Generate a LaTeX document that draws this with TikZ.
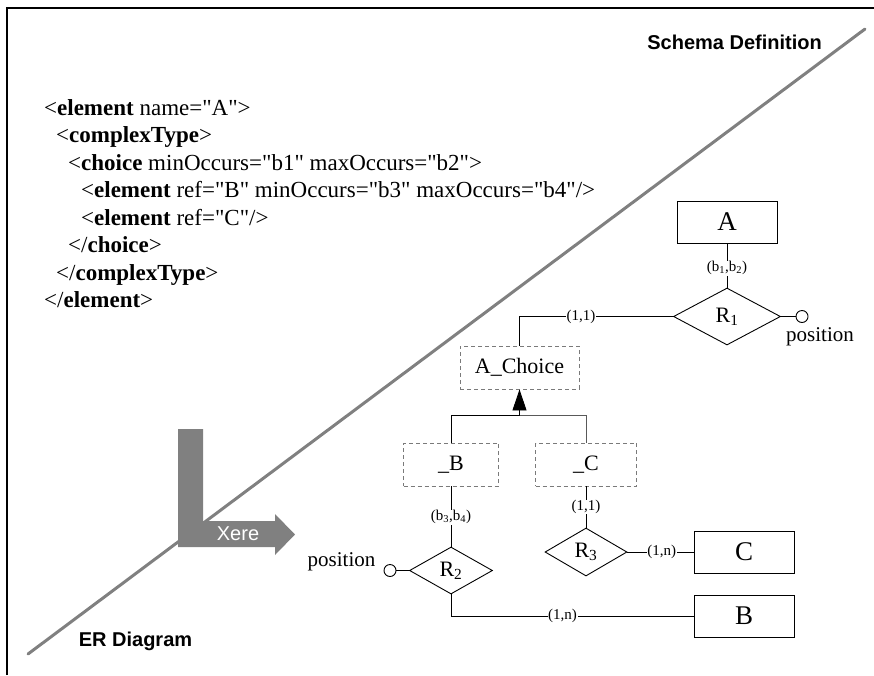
\documentclass[tikz,border=0pt]{standalone}
\usepackage{fontspec}
\setmainfont{Liberation Serif}[Ligatures=TeXOff]
\newfontfamily\arialfont{Liberation Sans}
\usetikzlibrary{shapes.geometric,arrows.meta}
\definecolor{divider}{HTML}{808080}
\definecolor{dashgray}{HTML}{7A7A7A}
\begin{document}
\begin{tikzpicture}[x=1pt,y=-1pt,
  entity/.style={draw,line width=0.9pt,minimum width=100pt,minimum height=42pt,inner sep=0pt,
    font=\fontsize{27}{30}\selectfont},
  weakbox/.style={draw=dashgray,line width=0.9pt,dash pattern=on 4pt off 3pt,minimum height=43pt,
    inner sep=0pt,font=\fontsize{22}{26}\selectfont},
  rel/.style={diamond,draw,line width=0.9pt,inner sep=0pt,font=\fontsize{22}{26}\selectfont},
  attr/.style={circle,draw,line width=0.9pt,minimum size=12pt,inner sep=0pt},
  conn/.style={line width=0.9pt},
  lbl/.style={fill=white,inner sep=0.6pt,font=\fontsize{15}{17}\selectfont},
  xml/.style={anchor=base west,inner sep=0pt,font=\fontsize{23}{27}\selectfont},
  caption/.style={inner sep=0pt,font=\arialfont\bfseries\fontsize{20}{24}\selectfont},
  plain/.style={inner sep=0pt,font=\fontsize{21}{25}\selectfont}]
\useasboundingbox (0,0) rectangle (874,675);

% frame and divider between the two halves
\draw[line width=1.5pt] (7,675) -- (7,8) -- (874,8);
\draw[divider,line width=3pt,line cap=round] (865,29) -- (28,654);
\node[caption,anchor=east] (schema) at (822,42) {Schema Definition};
\node[caption] (er) at (135.5,641) {ER Diagram};

% XML schema fragment
\node[xml] (x1) at (44,115)   {<\textbf{element} name="A">};
\node[xml] (x2) at (56,142.5) {<\textbf{complexType}>};
\node[xml] (x3) at (68,170)   {<\textbf{choice} minOccurs="b1" maxOccurs="b2">};
\node[xml] (x4) at (81,197.5) {<\textbf{element} ref="B" minOccurs="b3" maxOccurs="b4"/>};
\node[xml] (x5) at (81,225)   {<\textbf{element} ref="C"/>};
\node[xml] (x6) at (68,252.5) {</\textbf{choice}>};
\node[xml] (x7) at (56,280)   {</\textbf{complexType}>};
\node[xml] (x8) at (44,307.5) {</\textbf{element}>};

% transformation arrow
\fill[divider] (178,429) -- (203,429) -- (203,521) -- (275,521) -- (275,514) -- (295,534.5)
  -- (275,555) -- (275,547) -- (178,547) -- cycle;
\node[inner sep=0pt,text=white,font=\arialfont\fontsize{20}{24}\selectfont] (xere) at (238,534) {Xere};

% ER diagram
\node[entity] (A) at (727,222) {A};
\node[rel,minimum width=107pt,minimum height=57pt] (R1) at (727,316.5) {R\textsubscript{1}};
\node[attr] (p1) at (802,316.5) {};
\node[plain] (pos1) at (820,337) {position};
\coordinate (bend) at (519.5,316.5);
\node[weakbox,minimum width=119pt] (AC) at (519.5,367.5) {A\_Choice};
\coordinate (junc) at (519.5,415);
\node[weakbox,minimum width=95pt] (Bw) at (451,464.5) {\_B};
\node[weakbox,minimum width=101pt] (Cw) at (586,464.5) {\_C};
\node[rel,minimum width=83pt,minimum height=47pt] (R2) at (451,570.5) {R\textsubscript{2}};
\node[rel,minimum width=82pt,minimum height=48pt] (R3) at (586,552) {R\textsubscript{3}};
\node[entity] (C) at (744,552) {C};
\node[entity] (B) at (744,616) {B};
\node[attr] (p2) at (390,570.5) {};
\node[plain] (pos2) at (341.5,562) {position};

\draw[conn] (A) -- node[lbl,pos=0.56] {(b\textsubscript{1},b\textsubscript{2})} (R1);
\draw[conn] (R1) -- (p1);
\draw[conn] (R1) -- node[lbl,pos=0.6] {(1,1)} (bend) -- (AC);
\draw[conn,-{Triangle[length=21pt,width=14pt]}] (junc) -- (AC);
\draw[conn] (Bw) -- (Bw |- junc) -- (junc);
\draw[conn,draw=black!65] (junc) -- (Cw |- junc) -- (Cw);
\draw[conn] (Bw) -- node[lbl,pos=0.51] {(b\textsubscript{3},b\textsubscript{4})} (R2);
\draw[conn] (Cw) -- node[lbl,pos=0.5] {(1,1)} (R3);
\draw[conn] (R3) -- node[lbl,pos=0.52] {(1,n)} (C);
\draw[conn] (R2) |- node[lbl,pos=0.73] {(1,n)} (B);
\draw[conn] (p2) -- (R2);
\end{tikzpicture}
\end{document}
